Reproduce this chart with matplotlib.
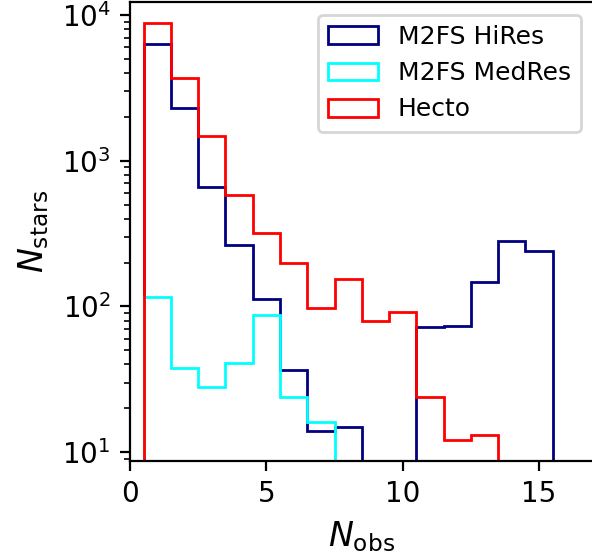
import numpy as np
import matplotlib
matplotlib.use("Agg")
import matplotlib.pyplot as plt

# Number of observations per star (bin centres) and star counts per bin
nobs_hires = [1, 2, 3, 4, 5, 6, 7, 8, 9, 10, 11, 12, 13, 14, 15]
stars_hires = [6300, 2290, 660, 266, 113, 36.5, 14, 14.8, 0, 0, 72, 74, 148, 283, 241]

nobs_medres = [1, 2, 3, 4, 5, 6, 7]
stars_medres = [117, 38, 28, 41, 88, 24, 16]

nobs_hecto = [1, 2, 3, 4, 5, 6, 7, 8, 9, 10, 11, 12, 13]
stars_hecto = [8800, 3680, 1470, 580, 318, 200, 97, 155, 79, 91, 24, 12.1, 13.1]

labels = ["M2FS HiRes", "M2FS MedRes", "Hecto"]
colors = ["navy", "cyan", "red"]

fig = plt.figure(figsize=(2.96, 2.8), dpi=200)
ax = fig.add_axes([130 / 592, 99 / 560, 463.6 / 592, 459 / 560])

series = [(nobs_hires, stars_hires), (nobs_medres, stars_medres), (nobs_hecto, stars_hecto)]
for (x, w), lab, col in zip(series, labels, colors):
    edges = np.arange(0.5, max(x) + 1.0, 1.0)
    ax.hist(x, bins=edges, weights=w, histtype="step", log=True,
            color=col, label=lab)

ax.set_xlim(0, 17)
ax.set_ylim(8.7, 12300)
ax.set_xticks([0, 5, 10, 15])
ax.set_xlabel(r"$N_{\rm obs}$", fontsize=12)
ax.set_ylabel(r"$N_{\rm stars}$", fontsize=12)
ax.legend(loc="upper right", fontsize=9)

fig.savefig("out.png", dpi=200)
